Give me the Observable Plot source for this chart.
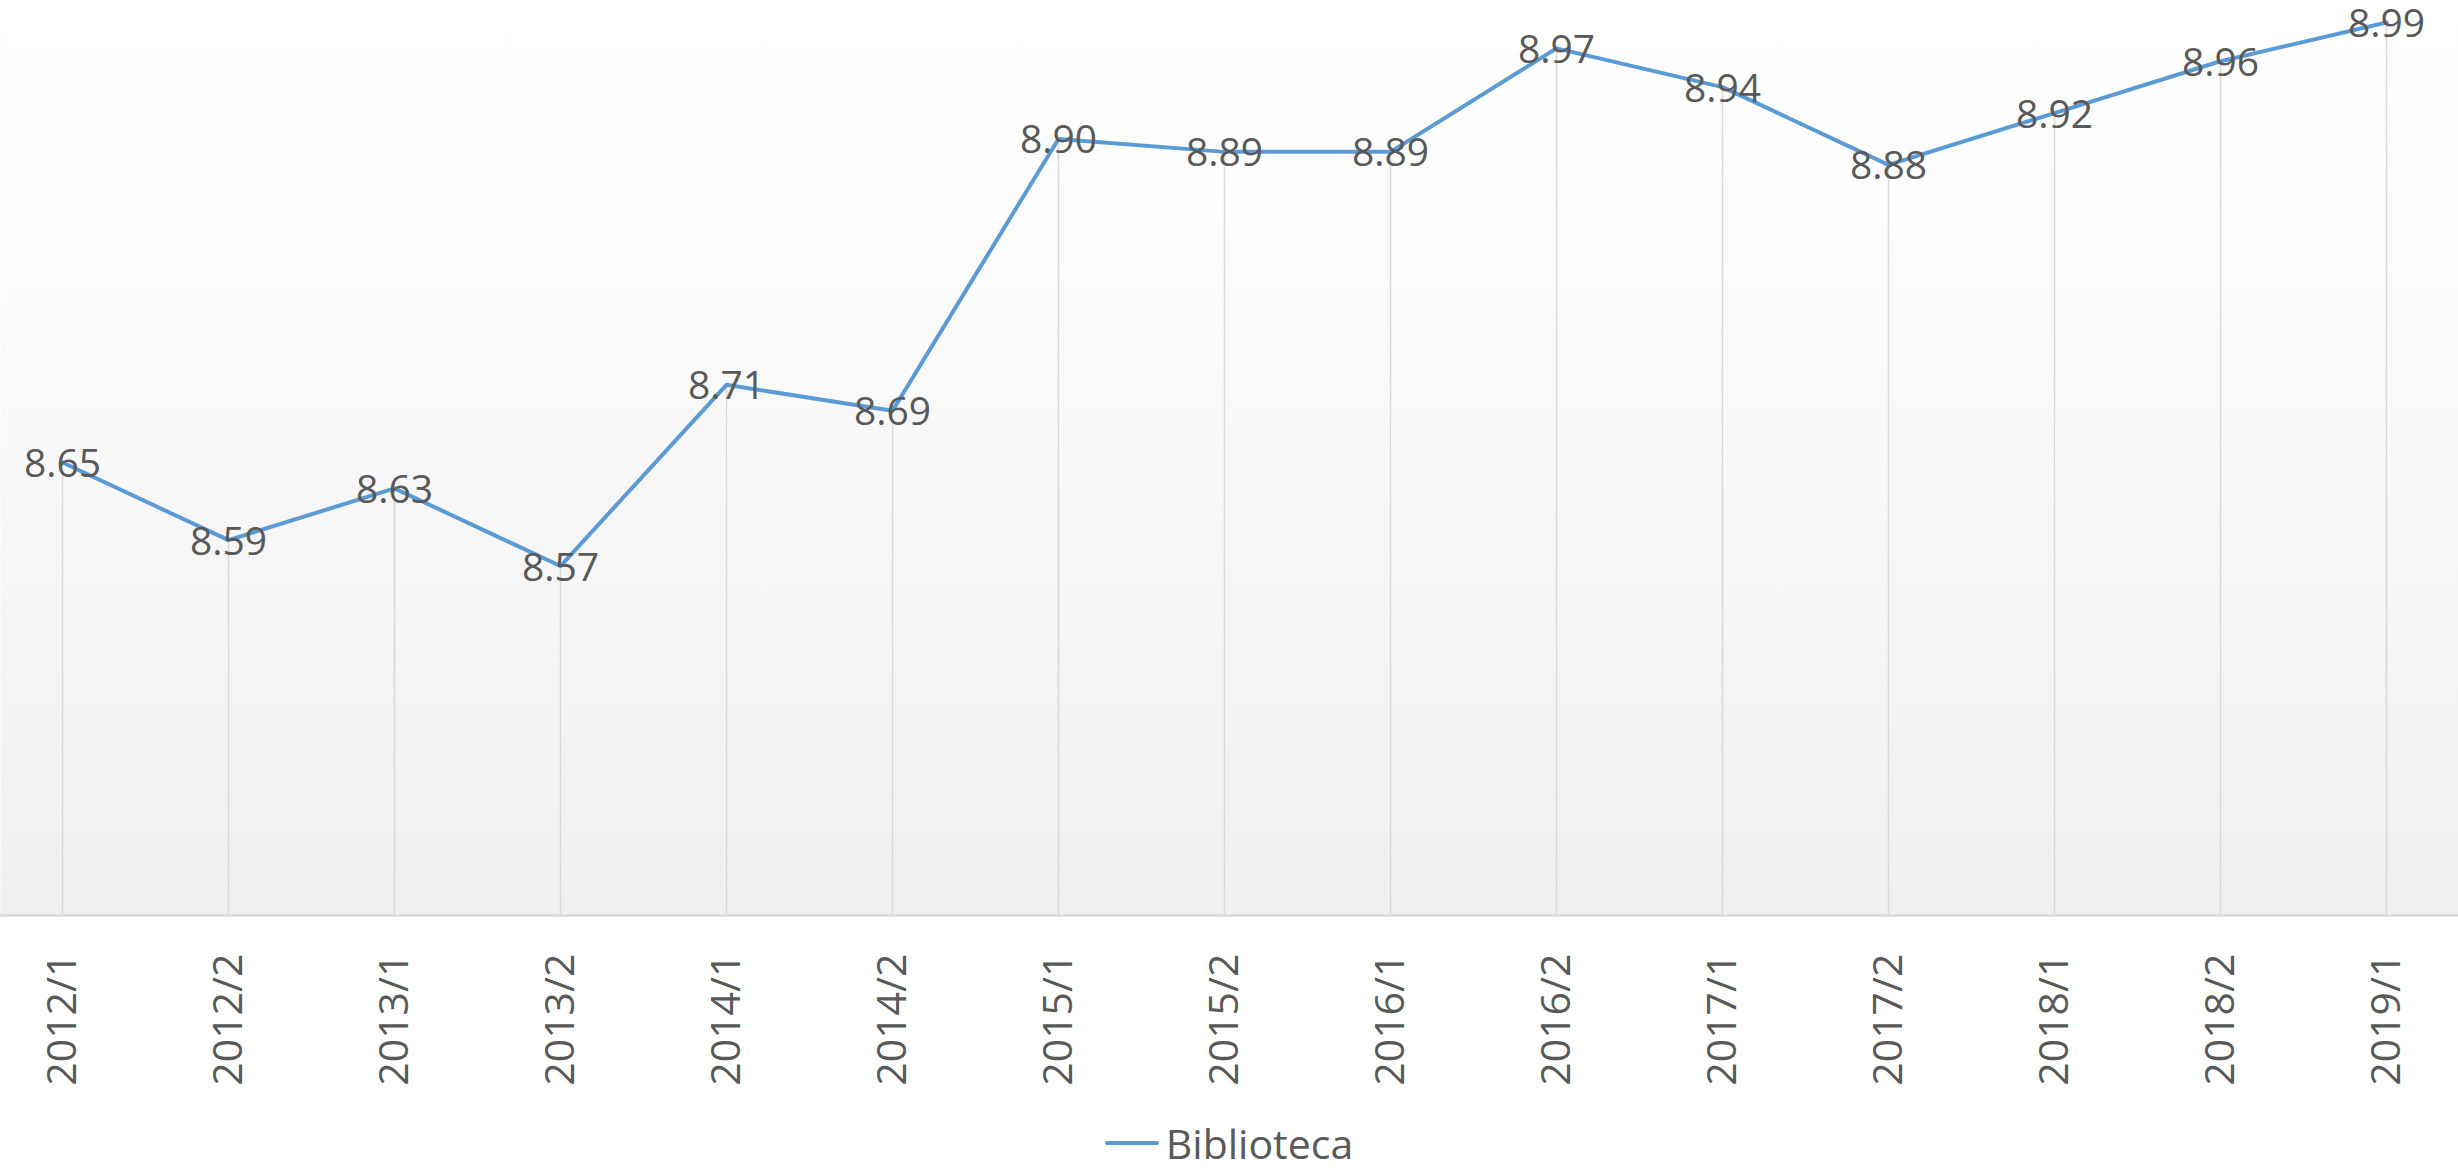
<!DOCTYPE html>
<html>
<head>
<meta charset="utf-8">
<script src="https://cdn.jsdelivr.net/npm/d3@7"></script>
<script src="https://cdn.jsdelivr.net/npm/@observablehq/plot@0.6"></script>
<style>
  html, body { margin: 0; padding: 0; background: #ffffff; }
  body { width: 2458px; height: 1168px; overflow: hidden; font-family: "Open Sans", sans-serif; }
  #legend { height: 50px; display: flex; justify-content: center; align-items: center; color: #595959; font-size: 41px; }
  #legend .swatch { width: 54px; height: 4px; background: #5B9BD5; margin-right: 7px; border-radius: 2px; }
</style>
</head>
<body>
<div id="chart"></div>
<div id="legend"><span class="swatch"></span><span>Biblioteca</span></div>
<script>
const periods = ["2012/1","2012/2","2013/1","2013/2","2014/1","2014/2","2015/1","2015/2","2016/1","2016/2","2017/1","2017/2","2018/1","2018/2","2019/1"];
const values = [8.65, 8.59, 8.63, 8.57, 8.71, 8.69, 8.90, 8.89, 8.89, 8.97, 8.94, 8.88, 8.92, 8.96, 8.99];
const seriesName = "Biblioteca";
const yMin = 8.3, yMax = 9.0;

const data = periods.map((p, i) => ({period: p, value: values[i]}));

const gradientDefs = () => {
  const defs = d3.create("svg:defs");
  const g = defs.append("linearGradient").attr("id", "bggrad").attr("x1", 0).attr("y1", 0).attr("x2", 0).attr("y2", 1);
  g.append("stop").attr("offset", "0%").attr("stop-color", "#ffffff");
  g.append("stop").attr("offset", "100%").attr("stop-color", "#f0f0f0");
  return defs.node();
};

const chart = Plot.plot({
  width: 2458,
  height: 1118,
  marginLeft: 0,
  marginRight: 0,
  marginTop: 9,
  marginBottom: 203,
  style: {background: "#ffffff", fontFamily: "'Open Sans', sans-serif", color: "#595959", overflow: "visible"},
  x: {type: "point", domain: periods, range: [57, 2391], padding: 0, axis: null},
  y: {domain: [yMin, yMax], axis: null},
  marks: [
    gradientDefs,
    Plot.frame({fill: "url(#bggrad)", stroke: null}),
    Plot.ruleX(data, {x: "period", y1: yMin, y2: "value", stroke: "#d9d9d9", strokeWidth: 1.5}),
    Plot.ruleY([yMin], {stroke: "#d9d9d9", strokeWidth: 2.5}),
    Plot.line(data, {x: "period", y: "value", stroke: "#5B9BD5", strokeWidth: 4, strokeLinejoin: "round", strokeLinecap: "round"}),
    Plot.text(data, {x: "period", y: "value", text: d => d.value.toFixed(2), fontSize: 39, fill: "#595959", textAnchor: "middle", lineAnchor: "middle", dy: 2}),
    Plot.text(periods, {x: d => d, frameAnchor: "bottom", dy: 38, rotate: -90, textAnchor: "end", lineAnchor: "middle", fontSize: 41, fill: "#595959", text: d => d})
  ]
});
document.getElementById("chart").appendChild(chart);
</script>
</body>
</html>
